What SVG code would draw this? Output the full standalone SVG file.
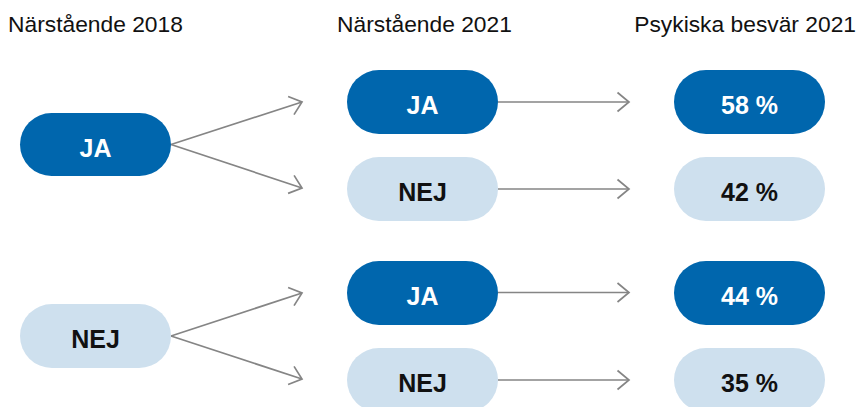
<svg xmlns="http://www.w3.org/2000/svg" width="860" height="407" viewBox="0 0 860 407">
<defs>
<marker id="arr" markerUnits="userSpaceOnUse" markerWidth="30" markerHeight="30" viewBox="-15 -15 30 30" refX="0" refY="0" orient="auto">
<path d="M -11.5 -9.5 L 0 0 L -11.5 9.5" fill="none" stroke="#858585" stroke-width="1.7"/>
</marker>
<style>
.hdr{font-family:"Liberation Sans",Arial,sans-serif;font-size:22.8px;fill:#111}
.dark{fill:#0066AD}
.light{fill:#CEE0EE}
.lbl{font-family:"Liberation Sans",Arial,sans-serif;font-size:25px;font-weight:bold;text-anchor:middle}
.w{fill:#fff}
.b{fill:#111}
.con{fill:none;stroke:#858585;stroke-width:1.7;marker-end:url(#arr)}
</style>
</defs>
<rect width="860" height="407" fill="#fff"/>
<g id="headers">
<text class="hdr" x="8" y="31.5">Närstående 2018</text>
<text class="hdr" x="337" y="31.5">Närstående 2021</text>
<text class="hdr" x="856" y="31.5" text-anchor="end">Psykiska besvär 2021</text>
</g>
<g id="connectors">
<line class="con" x1="171" y1="144.5" x2="302" y2="102"/>
<line class="con" x1="171" y1="144.5" x2="302" y2="188"/>
<line class="con" x1="171" y1="336" x2="302" y2="293"/>
<line class="con" x1="171" y1="336" x2="302" y2="379"/>
<line class="con" x1="498" y1="102" x2="629" y2="102"/>
<line class="con" x1="498" y1="189" x2="629" y2="189"/>
<line class="con" x1="498" y1="292.5" x2="629" y2="292.5"/>
<line class="con" x1="498" y1="380" x2="629" y2="380"/>
</g>
<g id="n2018ja">
<rect class="dark" x="20" y="113" width="151" height="63" rx="31.5"/>
<text class="lbl w" x="95.5" y="157">JA</text>
</g>
<g id="n2018nej">
<rect class="light" x="20" y="304" width="151" height="64" rx="32"/>
<text class="lbl b" x="95.5" y="348">NEJ</text>
</g>
<g id="n2021ja1">
<rect class="dark" x="347" y="70" width="151" height="64" rx="32"/>
<text class="lbl w" x="422.5" y="114">JA</text>
</g>
<g id="n2021nej1">
<rect class="light" x="347" y="157" width="151" height="64" rx="32"/>
<text class="lbl b" x="422.5" y="201">NEJ</text>
</g>
<g id="n2021ja2">
<rect class="dark" x="347" y="261" width="151" height="64" rx="32"/>
<text class="lbl w" x="422.5" y="305">JA</text>
</g>
<g id="n2021nej2">
<rect class="light" x="347" y="348" width="151" height="64" rx="32"/>
<text class="lbl b" x="422.5" y="392">NEJ</text>
</g>
<g id="p58">
<rect class="dark" x="674" y="70" width="151" height="64" rx="32"/>
<text class="lbl w" x="749.5" y="114">58 %</text>
</g>
<g id="p42">
<rect class="light" x="674" y="157" width="151" height="64" rx="32"/>
<text class="lbl b" x="749.5" y="201">42 %</text>
</g>
<g id="p44">
<rect class="dark" x="674" y="261" width="151" height="64" rx="32"/>
<text class="lbl w" x="749.5" y="305">44 %</text>
</g>
<g id="p35">
<rect class="light" x="674" y="348" width="151" height="64" rx="32"/>
<text class="lbl b" x="749.5" y="392">35 %</text>
</g>
</svg>
